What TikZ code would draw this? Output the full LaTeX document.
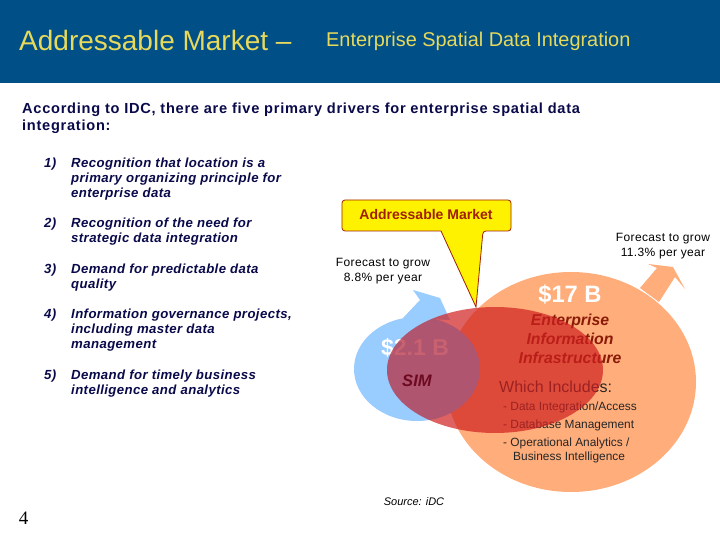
\documentclass[tikz,border=0pt]{standalone}
\usepackage{fontspec}
\setmainfont{Liberation Sans}
\newfontfamily\pagefont{Liberation Serif}
\usetikzlibrary{shapes.geometric}
\definecolor{headblue}{HTML}{004F87}
\definecolor{headgold}{HTML}{E6D95C}
\definecolor{navytext}{HTML}{0A0A4A}
\definecolor{simblue}{HTML}{99CCFF}
\definecolor{eiiorange}{HTML}{FFAD7A}
\definecolor{marketred}{HTML}{D02020}
\definecolor{calloutred}{HTML}{A02000}
\definecolor{eiitext}{HTML}{8A1A08}
\definecolor{simtext}{HTML}{6E0A20}
\definecolor{overlapshade}{HTML}{705DA8}
\newcommand{\fsize}[2]{\fontsize{#1}{#2}\selectfont}
\tikzset{
    every node/.style={inner sep=0pt},
    bodyitem/.style={anchor=west, align=left, text=navytext, font=\fsize{13.2}{15}\bfseries\itshape\addfontfeature{LetterSpace=3}},
    forecast/.style={align=center, font=\fsize{12}{14.5}\addfontfeature{LetterSpace=3}},
    sublist/.style={anchor=west, text=black!85, font=\fsize{11.9}{14}},
    bubble/.style={ellipse, minimum width=#1},
}
\begin{document}
\begin{tikzpicture}[x=1pt, y=-1pt]
    \useasboundingbox (0,0) rectangle (720,540);
    \fill[white] (0,0) rectangle (720,540);
    \fill[headblue] (0,0) rectangle (720,83);
    \node(title)[anchor=west, text=headgold, font=\fsize{28}{32}] at (19,40) {Addressable Market --};
    \node(subtitle)[anchor=west, text=headgold, font=\fsize{19.9}{24}] at (326,41) {Enterprise Spatial Data Integration};
    \node(intro)[anchor=west, align=left, text=navytext, font=\fsize{14.6}{17}\bfseries\addfontfeature{LetterSpace=5}] at (22,118) {According to IDC, there are five primary drivers for enterprise spatial data\\integration:};

    \node(num_1)[bodyitem] at (44,164) {1)};
    \node(item_1)[bodyitem] at (71,179) {Recognition that location is a\\primary organizing principle for\\enterprise data};
    \node(num_2)[bodyitem] at (44,224) {2)};
    \node(item_2)[bodyitem] at (71,231.5) {Recognition of the need for\\strategic data integration};
    \node(num_3)[bodyitem] at (44,270) {3)};
    \node(item_3)[bodyitem] at (71,277.5) {Demand for predictable data\\quality};
    \node(num_4)[bodyitem] at (44,315) {4)};
    \node(item_4)[bodyitem] at (71,330) {Information governance projects,\\including master data\\management};
    \node(num_5)[bodyitem] at (44,376) {5)};
    \node(item_5)[bodyitem] at (71,383.5) {Demand for timely business\\intelligence and analytics};
    \node(page)[font=\fsize{19}{24}\pagefont] at (23.5,518) {4};

    \fill[eiiorange] (640,288) -- (657,268) -- (648,264) -- (673,267) -- (685,289) -- (675,277) -- (659,302) -- cycle;
    \node(eii)[bubble=250pt, minimum height=220pt, fill=eiiorange] at (571,382) {};
    \fill[simblue] (403,318) -- (420,300) -- (413,290) -- (440,298) -- (450,320) -- cycle;
    \node(sim)[bubble=126pt, minimum height=104pt, fill=simblue] at (417,369) {};

    \node(sim_value)[text=white, font=\fsize{23}{26}\bfseries] at (415,348) {\$2.1 B};
    \node(eii_value)[text=white, font=\fsize{23.7}{27}\bfseries] at (570,295) {\$17 B};
    \node(eii_name)[align=center, text=eiitext, font=\fsize{15.8}{19}\bfseries\itshape] at (570,339) {Enterprise\\Information\\Infrastructure};
    \node(includes)[anchor=west, text=black!85, font=\fsize{16}{19}] at (499,387) {Which Includes:};
    \node(sub_1)[sublist] at (503,407) {- Data Integration/Access};
    \node(sub_2)[sublist] at (503,425) {- Database Management};
    \node(sub_3)[sublist] at (503,443) {- Operational Analytics /};
    \node(sub_4)[sublist] at (513,457) {Business Intelligence};

    \node(market)[ellipse, minimum width=216pt, minimum height=126pt, fill=marketred, fill opacity=0.7] at (495,370) {};
    \begin{scope}
        \clip (495,370) ellipse [x radius=108, y radius=63];
        \fill[overlapshade, fill opacity=0.2] (417,369) ellipse [x radius=63, y radius=52];
    \end{scope}
    \node(sim_name)[text=simtext, font=\fsize{16.6}{19}\bfseries\itshape] at (417,381) {SIM};

    \coordinate(tail_left) at (441,231);
    \coordinate(tail_right) at (483,231);
    \coordinate(tail_tip) at (476,307);
    \draw[fill=yellow, draw=calloutred, line width=0.8pt, rounded corners=3pt] (tail_left) -- (342,231) -- (342,200) -- (511,200) -- (511,231) -- (tail_right) [sharp corners] -- (tail_tip) -- cycle;
    \node(callout)[text=calloutred, font=\fsize{14}{16}\bfseries] at (426,214) {Addressable Market};

    \node(grow_sim)[forecast] at (383,271) {Forecast to grow\\8.8\% per year};
    \node(grow_eii)[forecast] at (663,246) {Forecast to grow\\11.3\% per year};
    \node(source)[font=\fsize{11}{13}\itshape] at (414,502) {Source: iDC};
\end{tikzpicture}
\end{document}
